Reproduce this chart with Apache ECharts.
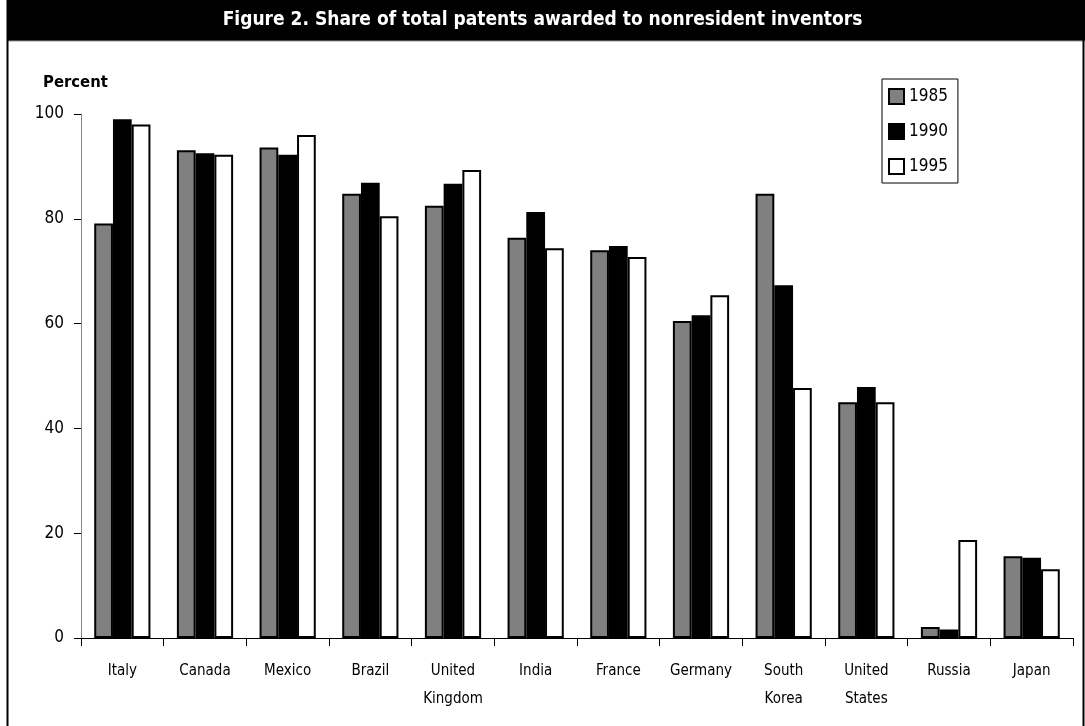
<!DOCTYPE html>
<html>
<head>
<meta charset="utf-8">
<script src="https://cdn.jsdelivr.net/npm/echarts@6/dist/echarts.min.js"></script>
<style>
  html, body { margin: 0; padding: 0; background: #fff; }
  #chart { width: 1085px; height: 726px; }
</style>
</head>
<body>
<div id="chart"></div>
<script>
// countries along the x axis
const countries = ['Italy', 'Canada', 'Mexico', 'Brazil', 'United\nKingdom', 'India',
  'France', 'Germany', 'South\nKorea', 'United\nStates', 'Russia', 'Japan']

// share of patents to nonresident inventors, percent
const share1985 = [79.1, 93.1, 93.6, 84.8, 82.5, 76.4, 74.0, 60.5, 84.8, 45.0, 2.1, 15.6]
const share1990 = [99.0, 92.5, 92.2, 86.9, 86.7, 81.3, 74.8, 61.6, 67.3, 47.9, 1.6, 15.3]
const share1995 = [98.0, 92.2, 96.0, 80.5, 89.3, 74.4, 72.7, 65.4, 47.7, 45.0, 18.7, 13.1]

const years = ['1985', '1990', '1995']
const fills = ['#808080', '#000000', '#ffffff']
const FONT = '"DejaVu Sans Condensed", "Liberation Sans", Arial, sans-serif'

const chart = echarts.init(document.getElementById('chart'))

function barSeries(name, data, fill) {
  return {
    name,
    type: 'bar',
    data,
    barGap: '0%',
    barCategoryGap: '32%',
    itemStyle: { color: fill, borderColor: '#000', borderWidth: 2 },
    emphasis: { disabled: true }
  }
}

chart.setOption({
  animation: false,
  textStyle: { fontFamily: FONT },
  graphic: [
    { type: 'rect', left: 7, top: 0, shape: { width: 1078, height: 41 }, style: { fill: '#000' }, z: 10 },
    { type: 'line', shape: { x1: 7, y1: 41, x2: 1085, y2: 41 }, style: { stroke: '#999', lineWidth: 1 }, z: 10 },
    { type: 'line', shape: { x1: 7.5, y1: 0, x2: 7.5, y2: 726 }, style: { stroke: '#000', lineWidth: 2 }, z: 10 },
    { type: 'line', shape: { x1: 1083.5, y1: 0, x2: 1083.5, y2: 726 }, style: { stroke: '#000', lineWidth: 2 }, z: 10 },
    {
      type: 'text', left: 'center', top: 11, z: 11,
      style: { text: 'Figure 2. Share of total patents awarded to nonresident inventors', fill: '#fff',
        font: 'bold 19px ' + FONT }
    },
    {
      type: 'text', left: 43, top: 74, z: 11,
      style: { text: 'Percent', fill: '#000', font: 'bold 16.5px ' + FONT }
    }
  ],
  legend: {
    data: years,
    icon: 'rect',
    orient: 'vertical',
    left: 882,
    top: 79,
    padding: [9, 10, 8, 6],
    itemGap: 18,
    itemWidth: 15,
    itemHeight: 15,
    borderColor: '#000',
    borderWidth: 1,
    textStyle: { fontSize: 17, color: '#000', fontFamily: FONT },
    selectedMode: false
  },
  grid: { left: 81, right: 12, top: 114, bottom: 88 },
  xAxis: {
    type: 'category',
    data: countries,
    axisLine: { lineStyle: { color: '#000', width: 1 } },
    axisTick: { show: true, length: 8, inside: false, lineStyle: { color: '#000' } },
    axisLabel: { fontSize: 15, color: '#000', margin: 19, lineHeight: 28, interval: 0 }
  },
  yAxis: {
    type: 'value',
    min: 0,
    max: 100,
    interval: 20,
    axisLine: { show: true, lineStyle: { color: '#888', width: 1 } },
    axisTick: { show: true, length: 7, lineStyle: { color: '#000' } },
    axisLabel: { fontSize: 17, color: '#000', margin: 17 },
    splitLine: { show: false }
  },
  series: [
    barSeries('1985', share1985, fills[0]),
    barSeries('1990', share1990, fills[1]),
    barSeries('1995', share1995, fills[2])
  ]
})
</script>
</body>
</html>
